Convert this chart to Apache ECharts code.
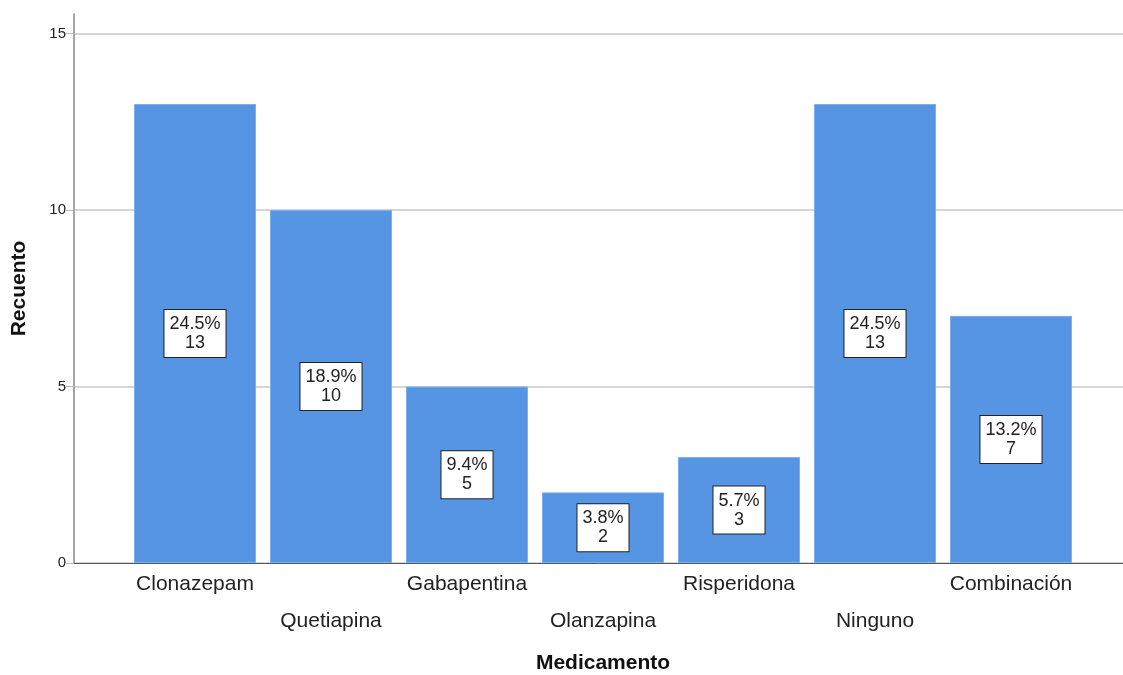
<!DOCTYPE html>
<html>
<head>
<meta charset="utf-8">
<title>Recuento por medicamento</title>
<script src="https://cdn.jsdelivr.net/npm/echarts@6/dist/echarts.min.js"></script>
<style>
  html, body { margin: 0; padding: 0; background: #ffffff; }
  #chart { width: 1123px; height: 675px; }
</style>
</head>
<body>
<div id="chart"></div>
<script>
// Medication categories and patient counts
const categories = ['Clonazepam', 'Quetiapina', 'Gabapentina', 'Olanzapina', 'Risperidona', 'Ninguno', 'Combinación'];
const counts = [13, 10, 5, 2, 3, 13, 7];
const yTicks = [0, 5, 10, 15];

const total = counts.reduce((a, b) => a + b, 0);
const FONT = '"Liberation Sans", Arial, sans-serif';
const Y_MAX = 15.55;
const TOP = 14, BOTTOM = 112, PLOT_H = 675 - TOP - BOTTOM;
// top of the gridline panel sits exactly at the last tick value
const GRID_TOP = TOP + PLOT_H * (Y_MAX - yTicks[yTicks.length - 1]) / Y_MAX;

const chart = echarts.init(document.getElementById('chart'), null, { renderer: 'canvas' });

chart.setOption({
  backgroundColor: '#ffffff',
  animation: false,
  grid: [
    // frame with count axis
    { left: 74, right: 0, top: TOP, bottom: BOTTOM, containLabel: false, outerBoundsMode: 'none' },
    // bars and category labels
    { left: 127, right: 44, top: TOP, bottom: BOTTOM, containLabel: false, outerBoundsMode: 'none' },
    // horizontal gridlines 0..15
    { left: 74, right: 0, top: GRID_TOP, bottom: BOTTOM, containLabel: false, outerBoundsMode: 'none' }
  ],
  xAxis: [
    {
      gridIndex: 0, type: 'value', min: 0, max: 1,
      axisLine: { show: true, lineStyle: { color: '#555555', width: 1 } },
      axisTick: { show: false }, axisLabel: { show: false }, splitLine: { show: false }
    },
    {
      gridIndex: 1, type: 'category', data: categories,
      axisLine: { show: false }, axisTick: { show: false },
      axisLabel: {
        interval: 0, margin: 3, hideOverlap: false,
        fontFamily: FONT, fontSize: 21, color: '#222222', lineHeight: 37,
        formatter: (v, i) => (i % 2 === 1 ? '\n' + v : v)
      },
      name: 'Medicamento', nameLocation: 'middle', nameGap: 90,
      nameTextStyle: { fontFamily: FONT, fontSize: 21, fontWeight: 'bold', color: '#111111' }
    },
    {
      gridIndex: 2, type: 'value', min: 0, max: 1, show: false
    }
  ],
  yAxis: [
    {
      gridIndex: 0, type: 'value', min: 0, max: Y_MAX, interval: 5,
      axisLine: { show: true, lineStyle: { color: '#888888', width: 1.5 } },
      axisTick: { show: true, length: 8, customValues: yTicks, lineStyle: { color: '#bbbbbb' } },
      axisLabel: {
        margin: 8, fontFamily: FONT, fontSize: 15, color: '#222222',
        padding: [6, 0, 0, 0],
        formatter: v => (yTicks.indexOf(v) >= 0 ? String(v) : '')
      },
      splitLine: { show: false },
      name: 'Recuento', nameLocation: 'middle', nameGap: 44, nameRotate: 90,
      nameTextStyle: { fontFamily: FONT, fontSize: 21, fontWeight: 'bold', color: '#111111' }
    },
    {
      gridIndex: 1, type: 'value', min: 0, max: Y_MAX, interval: 5,
      show: false, splitLine: { show: false }
    },
    {
      gridIndex: 2, type: 'value', min: yTicks[0], max: yTicks[yTicks.length - 1], interval: 5,
      axisLine: { show: false }, axisTick: { show: false }, axisLabel: { show: false },
      splitLine: { show: true, lineStyle: { color: '#c8c8c8', width: 1.5 } }
    }
  ],
  series: [
    {
      type: 'bar',
      xAxisIndex: 1, yAxisIndex: 1,
      data: counts,
      barWidth: 122,
      itemStyle: { color: '#5595e4', borderColor: '#7eaeeb', borderWidth: 1 },
      label: {
        show: true, position: 'inside',
        formatter: p => (p.value / total * 100).toFixed(1) + '%\n' + p.value,
        fontFamily: FONT, fontSize: 18, color: '#222222', lineHeight: 19,
        backgroundColor: '#ffffff', borderColor: '#222222', borderWidth: 1,
        padding: [5, 5, 4, 5], align: 'center'
      }
    }
  ]
});
</script>
</body>
</html>
